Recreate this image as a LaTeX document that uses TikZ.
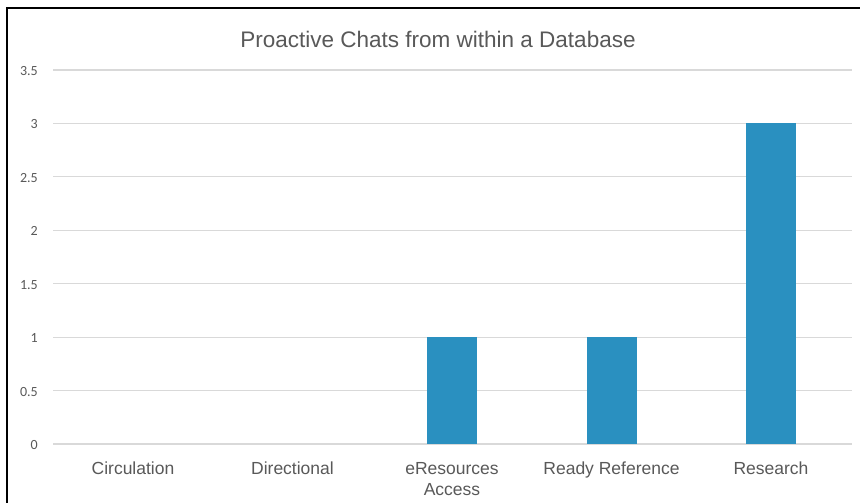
\documentclass[tikz,border=0pt]{standalone}
\usepackage{fontspec}
\setmainfont{Liberation Sans}
\newfontfamily\tickfont{Carlito}
\definecolor{txtgrey}{HTML}{595959}
\definecolor{gridgrey}{HTML}{D9D9D9}
\definecolor{barblue}{HTML}{2A90C0}
\begin{document}
\begin{tikzpicture}[x=1pt,y=-1pt,
  gridline/.style={draw=gridgrey,line width=1.2pt},
  bar/.style={fill=barblue},
  ticklabel/.style={anchor=base east,inner sep=0pt,text=txtgrey,font=\tickfont\fontsize{14}{16}\selectfont},
  catlabel/.style={anchor=base,inner sep=0pt,text=txtgrey,font=\fontsize{17.5}{21}\selectfont},
  titlelabel/.style={anchor=base,inner sep=0pt,text=txtgrey,font=\fontsize{22.5}{26}\selectfont},
  frameline/.style={draw=black,line width=2.6pt}]
  % canvas
  \useasboundingbox[fill=white] (0,0) rectangle (860,503);
  % outer frame (open at right and bottom)
  \draw[frameline] (7,510) -- (7,8) -- (870,8);
  % title
  \node[titlelabel] (title) at (438,48) {Proactive Chats from within a Database};
  % gridlines and value labels: 0.5 unit = 53.43
  \foreach \v/\lab [count=\i] in {0/0,0.5/0.5,1/1,1.5/1.5,2/2,2.5/2.5,3/3,3.5/3.5}{
    \pgfmathsetmacro{\yy}{444-106.86*\v}
    \draw[gridline] (53,\yy) -- (852,\yy);
    \node[ticklabel] (tick\i) at (38,\yy+5.5) {\lab};
  }
  % bars
  \fill[bar] (427,337.1) rectangle (477,444);
  \fill[bar] (587,337.1) rectangle (637,444);
  \fill[bar] (746,123.4) rectangle (796,444);
  % category labels
  \node[catlabel] (cat1) at (133,474) {Circulation};
  \node[catlabel] (cat2) at (292.5,474) {Directional};
  \node[catlabel] (cat3) at (452,474) {eResources};
  \node[catlabel] (cat3b) at (452,495) {Access};
  \node[catlabel] (cat4) at (611.5,474) {Ready Reference};
  \node[catlabel] (cat5) at (771,474) {Research};
\end{tikzpicture}
\end{document}
